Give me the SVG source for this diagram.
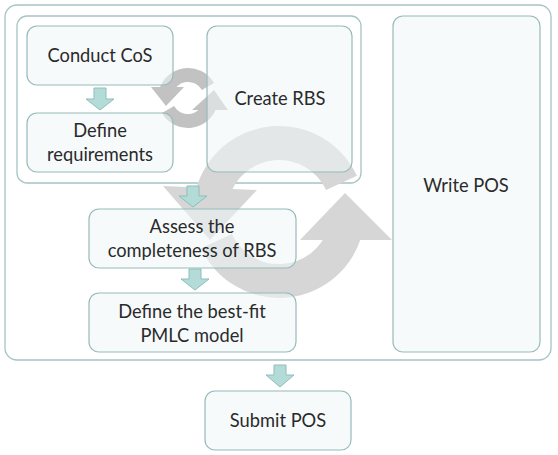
<svg xmlns="http://www.w3.org/2000/svg" width="558" height="455" viewBox="0 0 558 455">
<style>
.cont{fill:#ffffff;stroke:#a7c4c4;stroke-width:1.3}
.box{fill:#eef6f7;fill-opacity:0.55;stroke:#98b9b9;stroke-width:1.2}
.t{font-family:Lato,"Open Sans",sans-serif;font-size:18.3px;fill:#2a2a2a;text-anchor:middle}
.big{fill:#d6d6d6}
.small{fill:#c2c2c2}
.dn{fill:#b3dcd9;stroke:#8fbdbb;stroke-width:1}
</style>
<rect width="558" height="455" fill="#ffffff"/>
<g id="outer-container"><rect class="cont" x="5" y="5" width="546" height="355" rx="12"/></g>
<g id="inner-container"><rect class="cont" x="17" y="16" width="344" height="167" rx="10"/></g>
<g id="cycle-arrows">
<path class="big" d="M356.9,175.7 A86,86 0 0 0 195.9,189.7 L228.8,198.5 A52,52 0 0 1 326.1,190 Z"/>
<polygon class="big" points="163,186 257,190 210,240"/>
<path class="big" d="M201.1,248.3 A86,86 0 0 0 360.8,238.6 L328.5,228.1 A52,52 0 0 1 231.9,234 Z"/>
<polygon class="big" points="300,240 392,240 345,193"/>
<path class="small" d="M214,83 A30,30 0 0 0 159,90.2 L172.5,93.9 A16,16 0 0 1 201.9,90 Z"/>
<polygon class="small" points="151,87 184,87 166,106"/>
<path class="small" d="M162,113 A30,30 0 0 0 217,105.8 L203.5,102.1 A16,16 0 0 1 174.1,106 Z"/>
<polygon class="small" points="192,110 228,110 214,90"/>
</g>
<g id="conduct-cos"><rect class="box" x="27" y="26" width="146" height="59" rx="10"/><text class="t" x="100" y="62">Conduct CoS</text></g>
<g id="define-requirements"><rect class="box" x="27" y="113" width="146" height="59" rx="10"/><text class="t" x="100" y="137">Define</text><text class="t" x="100" y="161">requirements</text></g>
<g id="create-rbs"><rect class="box" x="207" y="26" width="145" height="146" rx="10"/><text class="t" x="280" y="105">Create RBS</text></g>
<g id="write-pos"><rect class="box" x="393" y="16" width="147" height="336" rx="10"/><text class="t" x="466" y="192">Write POS</text></g>
<g id="assess-rbs"><rect class="box" x="89" y="209" width="207" height="59" rx="10"/><text class="t" x="192" y="233">Assess the</text><text class="t" x="192" y="257">completeness of RBS</text></g>
<g id="define-pmlc"><rect class="box" x="89" y="293" width="207" height="59" rx="10"/><text class="t" x="192" y="318">Define the best-fit</text><text class="t" x="192" y="342">PMLC model</text></g>
<g id="submit-pos"><rect class="box" x="205" y="391" width="146" height="59" rx="10"/><text class="t" x="278" y="427">Submit POS</text></g>
<g id="connectors">
<path class="dn" d="M94,88 H106 V99 H114 L100,110 L86,99 H94 Z"/>
<path class="dn" d="M187,186 H199 V196 H207 L193,207 L179,196 H187 Z"/>
<path class="dn" d="M189,269 H201 V279 H209 L195,290 L181,279 H189 Z"/>
<path class="dn" d="M274,365 H286 V375 H294 L280,387 L266,375 H274 Z"/>
</g>
</svg>
